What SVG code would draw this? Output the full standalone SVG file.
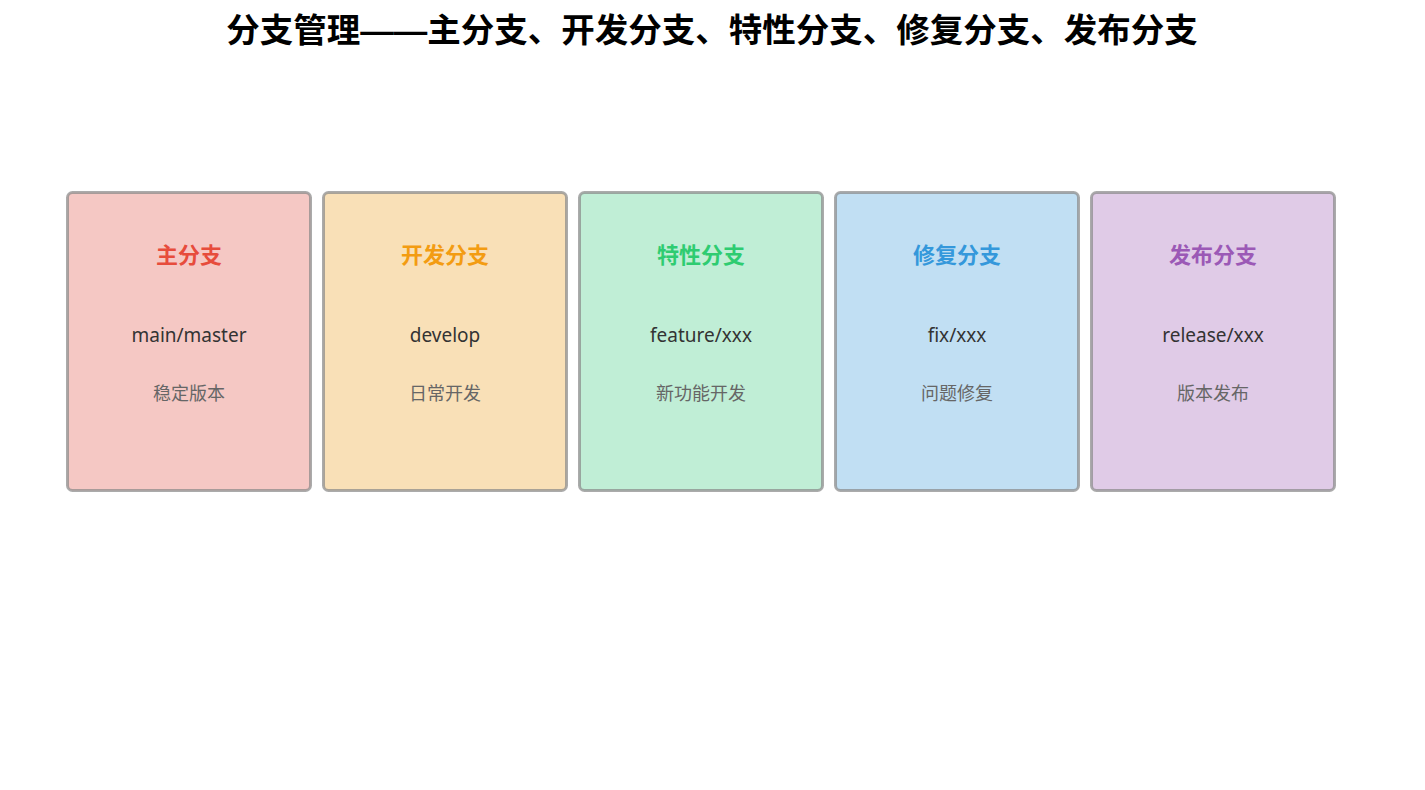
<svg xmlns="http://www.w3.org/2000/svg" width="1425" height="790" viewBox="0 0 1425 790">
<style>
.title{font-family:"Liberation Sans","Noto Sans CJK SC",sans-serif;font-size:33.5px;font-weight:bold;fill:#000;text-anchor:middle}
.card{stroke:#888;stroke-opacity:0.7;stroke-width:3}
.h{font-family:"Noto Sans CJK SC",sans-serif;font-size:22px;font-weight:bold;text-anchor:middle}
.m{font-family:"Noto Sans","Noto Sans CJK SC",sans-serif;font-size:19px;fill:#333;text-anchor:middle}
.s{font-family:"Noto Sans CJK SC",sans-serif;font-size:18px;fill:#666;text-anchor:middle}
</style>
<rect width="1425" height="790" fill="#fff"/>
<text class="title" x="712" y="42">分支管理——主分支、开发分支、特性分支、修复分支、发布分支</text>
<g id="connectors"></g>
<g id="main">
<rect class="card" x="67.5" y="192.5" width="243" height="298" rx="5" fill="#f5c8c4"/>
<text class="h" x="189" y="263" fill="#e74c3c">主分支</text>
<text class="m" x="189" y="342">main/master</text>
<text class="s" x="189" y="400">稳定版本</text>
</g>
<g id="develop">
<rect class="card" x="323.5" y="192.5" width="243" height="298" rx="5" fill="#f9e0b7"/>
<text class="h" x="445" y="263" fill="#f39c12">开发分支</text>
<text class="m" x="445" y="342">develop</text>
<text class="s" x="445" y="400">日常开发</text>
</g>
<g id="feature">
<rect class="card" x="579.5" y="192.5" width="243" height="298" rx="5" fill="#c0eed6"/>
<text class="h" x="701" y="263" fill="#2ecc71">特性分支</text>
<text class="m" x="701" y="342">feature/xxx</text>
<text class="s" x="701" y="400">新功能开发</text>
</g>
<g id="fix">
<rect class="card" x="835.5" y="192.5" width="243" height="298" rx="5" fill="#c1dff3"/>
<text class="h" x="957" y="263" fill="#3498db">修复分支</text>
<text class="m" x="957" y="342">fix/xxx</text>
<text class="s" x="957" y="400">问题修复</text>
</g>
<g id="release">
<rect class="card" x="1091.5" y="192.5" width="243" height="298" rx="5" fill="#e0cbe7"/>
<text class="h" x="1213" y="263" fill="#9b59b6">发布分支</text>
<text class="m" x="1213" y="342">release/xxx</text>
<text class="s" x="1213" y="400">版本发布</text>
</g>
</svg>
